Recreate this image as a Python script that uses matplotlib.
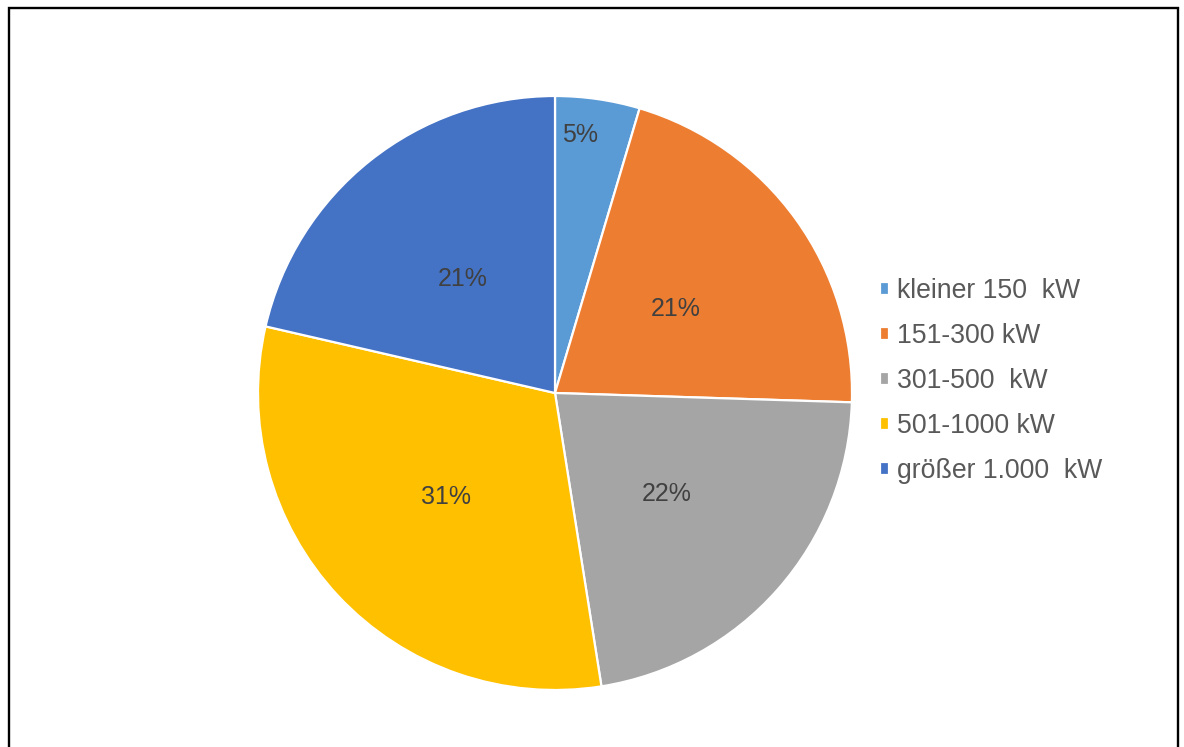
import matplotlib.pyplot as plt
from matplotlib.patches import Rectangle

plt.rcParams['font.family'] = ['Liberation Sans', 'DejaVu Sans']

# Daten
kategorien = ['kleiner 150  kW', '151-300 kW', '301-500  kW', '501-1000 kW', 'größer 1.000  kW']
anteile = [4.6, 20.9, 22.0, 31.1, 21.4]
farben = ['#5B9BD5', '#ED7D31', '#A5A5A5', '#FFC000', '#4472C4']

W, H = 1184, 747
fig = plt.figure(figsize=(W / 100, H / 100), dpi=100)

# Kreis: Mitte (555, 393), Radius 297 px
cx, cy, r = 555, 393, 297
ax = fig.add_axes([(cx - r) / W, (H - cy - r) / H, 2 * r / W, 2 * r / H])

wedges, texts, autotexts = ax.pie(anteile, colors=farben, startangle=90, counterclock=False,
                                  autopct='%.0f%%', pctdistance=0.5,
                                  wedgeprops=dict(edgecolor='white', linewidth=1.6),
                                  textprops=dict(color='#404040', fontsize=18))
for t in autotexts:
    t.set_va('center_baseline')
# kleines Segment: Beschriftung weiter außen
x0, y0 = autotexts[0].get_position()
autotexts[0].set_position((x0 * 1.17, y0 * 1.77))
ax.set_xlim(-1, 1)
ax.set_ylim(-1, 1)
ax.set_aspect('equal')
ax.axis('off')

fig.legend(wedges, kategorien, loc='center left', bbox_to_anchor=(880 / W, 1 - 381 / H),
           frameon=False, fontsize=19.2, labelcolor='#595959',
           handlelength=0.35, handleheight=0.35, handletextpad=0.3,
           labelspacing=0.71, borderpad=0, borderaxespad=0)

# Rahmen
fig.patches.append(Rectangle((9 / W, -0.02), (1178 - 9) / W, 1.02 - 7.5 / H,
                             transform=fig.transFigure, fill=False,
                             edgecolor='black', linewidth=1.7, clip_on=False))

fig.savefig('out.png', dpi=100)
